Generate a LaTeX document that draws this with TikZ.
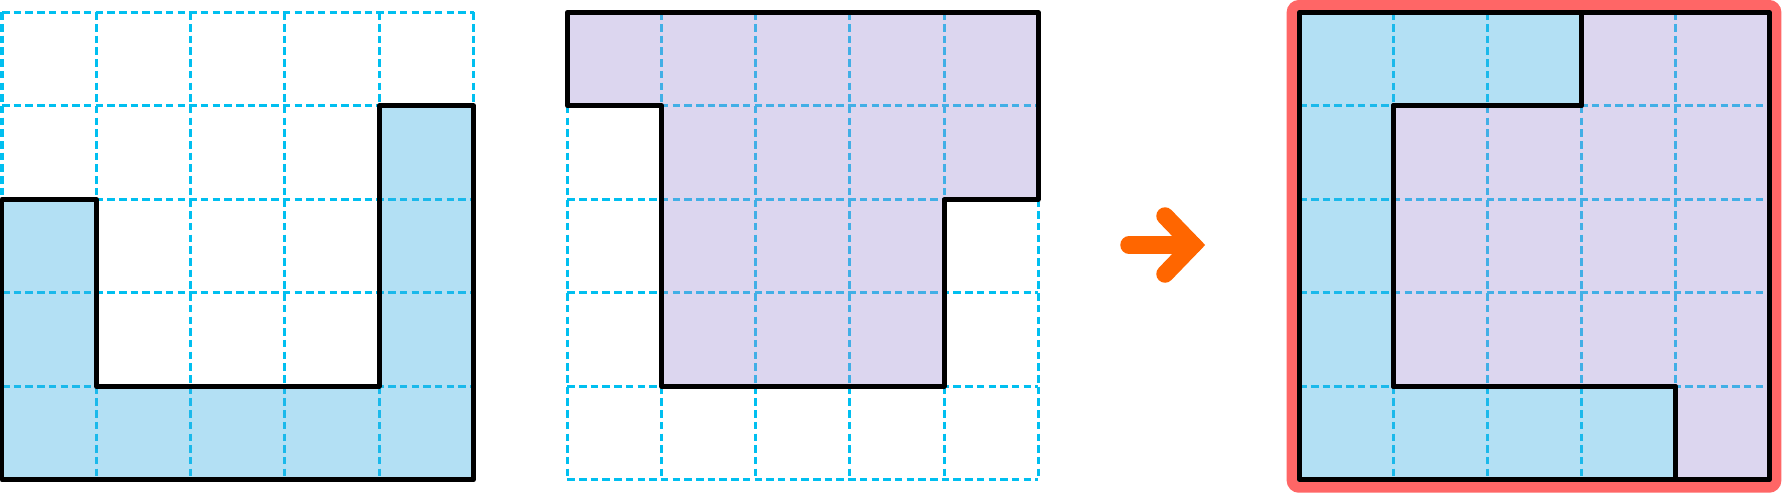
\documentclass[tikz,border=0pt]{standalone}
\usetikzlibrary{arrows.meta}
\definecolor{gridcyan}{RGB}{0,191,240}
\definecolor{partblue}{RGB}{65,178,228}
\definecolor{partpurple}{RGB}{167,152,215}
\definecolor{frame red}{RGB}{255,102,102}
\definecolor{arrow orange}{RGB}{255,102,0}

\begin{document}
\begin{tikzpicture}[x=1pt,y=-1pt,
  gridline/.style={draw=gridcyan,line width=3.1pt,dash pattern=on 7.5pt off 4.2pt},
  outline/.style={draw=black,line width=4.8pt,line join=round},
  bluepart/.style={outline,fill=partblue,fill opacity=0.4},
  purplepart/.style={outline,fill=partpurple,fill opacity=0.4},
  flowarrow/.style={draw=arrow orange,line width=17.5pt,line cap=round,line join=miter}]
\useasboundingbox (0,0) rectangle (1782,493);

\begin{scope}[shift={(2,12.3)},x=94.3pt,y=-93.5pt]
\foreach \i in {0,...,5} {
  \draw[gridline] (\i,0) -- (\i,5);
  \draw[gridline] (0,\i) -- (5,\i);
}
\filldraw[bluepart] (0,2) -- (1,2) -- (1,4) -- (4,4) -- (4,1) -- (5,1) -- (5,5) -- (0,5) -- cycle;
\end{scope}

\begin{scope}[shift={(567.3,12.3)},x=94.2pt,y=-93.5pt]
\foreach \i in {0,...,5} {
  \draw[gridline] (\i,0) -- (\i,5);
  \draw[gridline] (0,\i) -- (5,\i);
}
\filldraw[purplepart] (0,0) -- (5,0) -- (5,2) -- (4,2) -- (4,4) -- (1,4) -- (1,1) -- (0,1) -- cycle;
\end{scope}

\coordinate (arrowTail) at (1129,245);
\coordinate (arrowTip) at (1193,245);
\draw[flowarrow] (arrowTail) -- (arrowTip);
\draw[flowarrow] ([shift={(-28,-29)}]arrowTip) -- (arrowTip) -- ([shift={(-28,29)}]arrowTip);

\draw[frame red,line width=10.6pt,rounded corners=7pt] (1292,5.3) rectangle (1776,487.4);
\begin{scope}[shift={(1299.3,12.3)},x=94pt,y=-93.5pt]
\foreach \i in {1,...,4} {
  \draw[gridline] (\i,0) -- (\i,5);
  \draw[gridline] (0,\i) -- (5,\i);
}
\filldraw[bluepart] (0,0) -- (3,0) -- (3,1) -- (1,1) -- (1,4) -- (4,4) -- (4,5) -- (0,5) -- cycle;
\filldraw[purplepart] (3,0) -- (5,0) -- (5,5) -- (4,5) -- (4,4) -- (1,4) -- (1,1) -- (3,1) -- cycle;
\end{scope}
\end{tikzpicture}
\end{document}
